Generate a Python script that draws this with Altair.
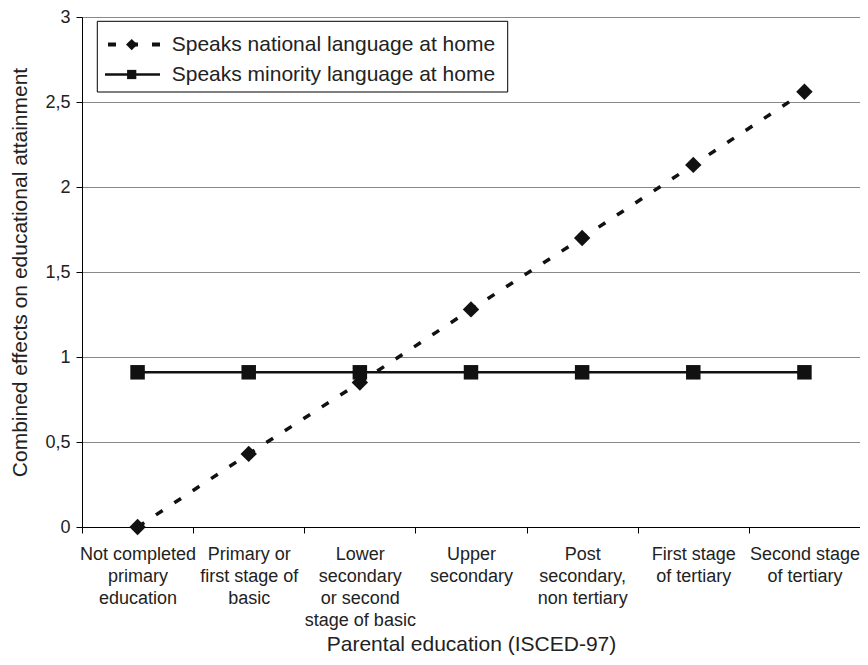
import altair as alt
import pandas as pd

categories = [
    "Not completed\nprimary\neducation",
    "Primary or\nfirst stage of\nbasic",
    "Lower\nsecondary\nor second\nstage of basic",
    "Upper\nsecondary",
    "Post\nsecondary,\nnon tertiary",
    "First stage\nof tertiary",
    "Second stage\nof tertiary",
]
series = ["Speaks national language at home", "Speaks minority language at home"]
national = [0.0, 0.43, 0.85, 1.28, 1.70, 2.13, 2.56]
minority = [0.91, 0.91, 0.91, 0.91, 0.91, 0.91, 0.91]
y_ticks = [0, 0.5, 1, 1.5, 2, 2.5, 3]

df = pd.DataFrame({
    "category": categories + categories,
    "value": national + minority,
    "series": [series[0]] * len(categories) + [series[1]] * len(categories),
})

FONT = "Liberation Sans"
INK = "#111111"
TXT = "#222222"

x_enc = alt.X(
    "category:N",
    sort=categories,
    title="Parental education (ISCED-97)",
    scale=alt.Scale(type="band", paddingInner=0, paddingOuter=0),
    bandPosition=0.5,
    axis=alt.Axis(
        labelAngle=0,
        labelExpr="split(datum.label, '\\n')",
        labelLineHeight=22,
        labelFontSize=18,
        labelPadding=12,
        labelColor=TXT,
        labelOverlap=False,
        labelBound=False,
        labelLimit=300,
        tickSize=6,
        tickBand="extent",
        tickColor="black",
        domainColor="black",
        grid=False,
        titleFontSize=21,
        titleFontWeight="normal",
        titleColor=TXT,
        titleY=123,
        titleBaseline="alphabetic",
    ),
)
y_enc = alt.Y(
    "value:Q",
    title="Combined effects on educational attainment",
    scale=alt.Scale(domain=[0, 3], nice=False, zero=True),
    axis=alt.Axis(
        values=y_ticks,
        format="~g",
        labelExpr="replace(datum.label, '.', ',')",
        labelFontSize=18,
        labelPadding=6,
        labelColor=TXT,
        tickSize=6,
        tickColor="black",
        domainColor="black",
        grid=True,
        gridColor="#888888",
        gridWidth=1,
        titleFontSize=21,
        titleFontWeight="normal",
        titleColor=TXT,
        titleX=-61.5,
        titleY=255,
        titleBaseline="middle",
    ),
)

base = alt.Chart(df).encode(x=x_enc, y=y_enc)
nat = base.transform_filter(alt.datum.series == series[0])
mino = base.transform_filter(alt.datum.series == series[1])

line_nat = nat.mark_line(color=INK, strokeWidth=3.5, strokeDash=[8, 14])
pt_nat = nat.mark_point(shape="diamond", filled=True, size=270, color=INK, opacity=1)
line_min = mino.mark_line(color=INK, strokeWidth=2.5)
pt_min = mino.mark_point(shape="square", filled=True, size=210, color=INK, opacity=1)

one = pd.DataFrame({"k": [0]})
leg_box = alt.Chart(one).mark_rect(fill="white", stroke="black", strokeWidth=1).encode(
    x=alt.value(15.3), x2=alt.value(425.7), y=alt.value(4.3), y2=alt.value(75)
)
leg_l1 = alt.Chart(one).mark_rule(color=INK, strokeWidth=4, strokeDash=[8, 14]).encode(
    x=alt.value(26), x2=alt.value(78), y=alt.value(27.6)
)
leg_p1 = alt.Chart(one).mark_point(shape="diamond", filled=True, size=130, color=INK, opacity=1).encode(
    x=alt.value(49.7), y=alt.value(27.6)
)
leg_t1 = alt.Chart(one).mark_text(align="left", baseline="middle", fontSize=21, color=TXT, font=FONT).encode(
    x=alt.value(89.7), y=alt.value(27.6), text=alt.value(series[0])
)
leg_l2 = alt.Chart(one).mark_rule(color=INK, strokeWidth=2.5).encode(
    x=alt.value(23), x2=alt.value(78), y=alt.value(57.5)
)
leg_p2 = alt.Chart(one).mark_point(shape="square", filled=True, size=85, color=INK, opacity=1).encode(
    x=alt.value(49.7), y=alt.value(57.5)
)
leg_t2 = alt.Chart(one).mark_text(align="left", baseline="middle", fontSize=21, color=TXT, font=FONT).encode(
    x=alt.value(89.7), y=alt.value(57.5), text=alt.value(series[1])
)

chart = alt.layer(
    line_nat, line_min, pt_nat, pt_min,
    leg_box, leg_l1, leg_p1, leg_t1, leg_l2, leg_p2, leg_t2,
).properties(
    width=778,
    height=510,
    autosize=alt.AutoSizeParams(type="none"),
    padding={"left": 74, "top": 9, "right": 0, "bottom": 130},
    background="white",
).configure(
    font=FONT,
).configure_view(
    stroke="#888888",
    strokeWidth=1,
)

chart.save("out.html", embed_options={"renderer": "svg", "actions": False})
